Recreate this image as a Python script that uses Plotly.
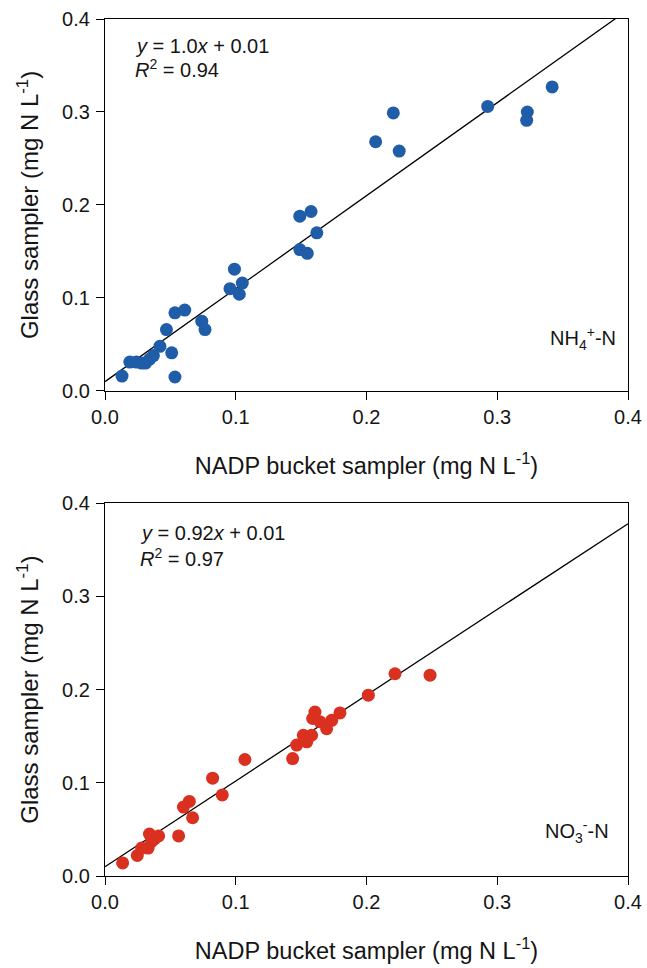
import plotly.graph_objects as go
from plotly.subplots import make_subplots

# NH4+-N data
nh4_x = [0.013, 0.019, 0.024, 0.028, 0.031, 0.034, 0.037, 0.042, 0.047, 0.051, 0.0535, 0.0535,
         0.061, 0.074, 0.0765, 0.0956, 0.099, 0.1027, 0.105, 0.149, 0.1576, 0.162, 0.149, 0.1547,
         0.207, 0.2205, 0.225, 0.2927, 0.323, 0.3225, 0.342]
nh4_y = [0.016, 0.031, 0.031, 0.030, 0.030, 0.034, 0.038, 0.048, 0.066, 0.041, 0.015, 0.084,
         0.087, 0.075, 0.066, 0.110, 0.131, 0.104, 0.116, 0.188, 0.193, 0.170, 0.152, 0.148,
         0.268, 0.299, 0.258, 0.306, 0.300, 0.291, 0.327]
nh4_slope, nh4_int = 1.0, 0.01

# NO3--N data
no3_x = [0.0135, 0.0247, 0.028, 0.033, 0.034, 0.0357, 0.038, 0.041, 0.0563, 0.060, 0.0645, 0.067,
         0.0823, 0.0897, 0.107, 0.1435, 0.1466, 0.1517, 0.1543, 0.158, 0.1606, 0.1588, 0.1644,
         0.1695, 0.1734, 0.1797, 0.2014, 0.2218, 0.2486]
no3_y = [0.014, 0.022, 0.030, 0.030, 0.045, 0.037, 0.040, 0.043, 0.043, 0.074, 0.080, 0.0625,
         0.105, 0.087, 0.125, 0.126, 0.1405, 0.151, 0.144, 0.151, 0.176, 0.169, 0.1655,
         0.158, 0.167, 0.175, 0.194, 0.217, 0.2155]
no3_slope, no3_int = 0.92, 0.01

line_x = [0.0, 0.4]
ticks = [0.0, 0.1, 0.2, 0.3, 0.4]

FONT = "Liberation Sans, Arial, sans-serif"
TXT = "#151515"

fig = make_subplots(rows=2, cols=1, vertical_spacing=0.131)

fig.add_trace(go.Scatter(x=line_x, y=[nh4_slope * v + nh4_int for v in line_x], mode="lines",
                         line=dict(color="black", width=1.3), showlegend=False), row=1, col=1)
fig.add_trace(go.Scatter(x=nh4_x, y=nh4_y, mode="markers",
                         marker=dict(color="#1F5DA8", size=13, line=dict(width=0)),
                         showlegend=False), row=1, col=1)
fig.add_trace(go.Scatter(x=line_x, y=[no3_slope * v + no3_int for v in line_x], mode="lines",
                         line=dict(color="black", width=1.3), showlegend=False), row=2, col=1)
fig.add_trace(go.Scatter(x=no3_x, y=no3_y, mode="markers",
                         marker=dict(color="#D9301F", size=13, line=dict(width=0)),
                         showlegend=False), row=2, col=1)

axis_common = dict(range=[0, 0.4], tickvals=ticks, tickformat=".1f", showgrid=False, zeroline=False,
                   showline=True, linecolor="black", linewidth=1.3, mirror=True,
                   ticks="outside", ticklen=8, tickwidth=1.3, tickcolor="black", automargin=False,
                   tickfont=dict(family=FONT, size=20, color=TXT))

xtitle = "NADP bucket sampler (mg N L<sup>-1</sup>)"
ytitle = "Glass sampler (mg N L<sup>-1</sup>)"
for r in (1, 2):
    fig.update_xaxes(**axis_common, title=dict(text=xtitle, font=dict(family=FONT, size=23.5, color=TXT),
                                               standoff=30), row=r, col=1)
    fig.update_yaxes(**axis_common, ticklabelstandoff=2,
                     title=dict(text=ytitle, font=dict(family=FONT, size=24, color=TXT),
                                standoff=16), row=r, col=1)

fig.update_layout(
    width=647, height=968,
    margin=dict(l=105, r=19, t=19, b=92),
    plot_bgcolor="white", paper_bgcolor="white",
    font=dict(family=FONT, color=TXT),
)
fig.layout.yaxis.domain = [0.566, 1.0]
fig.layout.yaxis2.domain = [0.0, 0.435]

ann_font = dict(family=FONT, size=20, color=TXT)
anns = [
    ("x", "y", "<i>y</i> = 1.0<i>x</i> + 0.01", 0.0214, 0.371, "left"),
    ("x", "y", "<i>R</i><sup>2</sup> = 0.94", 0.0214, 0.3464, "left"),
    ("x", "y", "NH<sub>4</sub><sup>+</sup>-N", 0.392, 0.056, "right"),
    ("x2", "y2", "<i>y</i> = 0.92<i>x</i> + 0.01", 0.0252, 0.368, "left"),
    ("x2", "y2", "<i>R</i><sup>2</sup> = 0.97", 0.0252, 0.342, "left"),
    ("x2", "y2", "NO<sub>3</sub><sup>-</sup>-N", 0.387, 0.048, "right"),
]
for xr, yr, txt, ax, ay, anc in anns:
    fig.add_annotation(xref=xr, yref=yr, x=ax, y=ay, text=txt, showarrow=False,
                       xanchor=anc, yanchor="middle", font=ann_font)

fig.write_html("out.html")
